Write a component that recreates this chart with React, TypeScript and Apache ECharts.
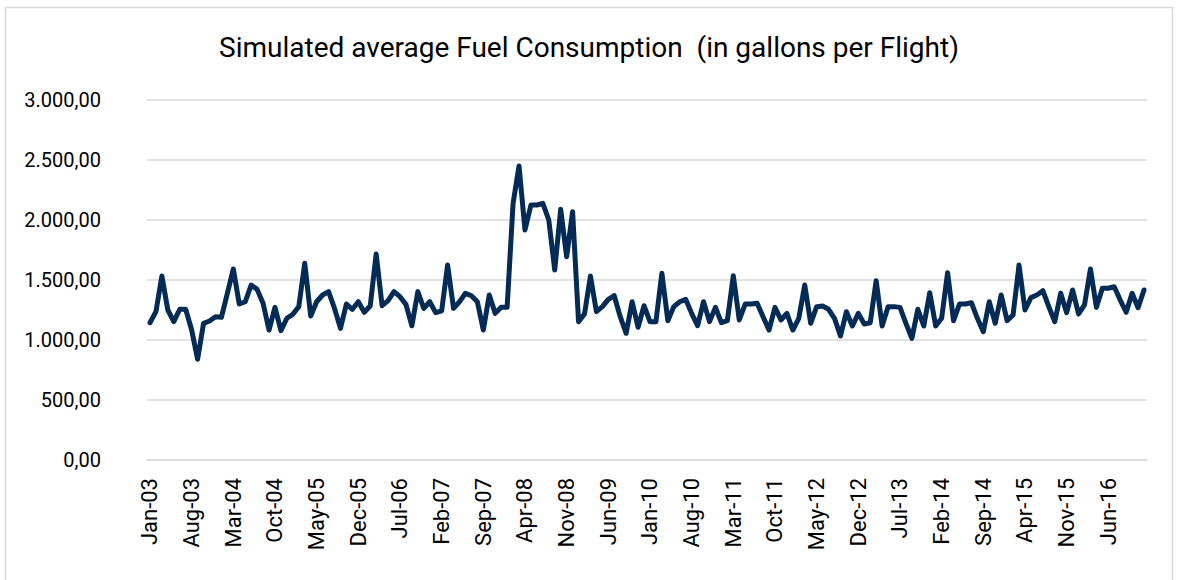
import React, { useEffect, useRef } from "react";
import * as echarts from "echarts";

const MONTH_NAMES = ["Jan", "Feb", "Mar", "Apr", "May", "Jun", "Jul", "Aug", "Sep", "Oct", "Nov", "Dec"];
const FIRST_YEAR = 2003;
const LAST_YEAR = 2016;

const TITLE = "Simulated average Fuel Consumption  (in gallons per Flight)";

const Y_MIN = 0;
const Y_MAX = 3000;
const Y_STEP = 500;

// Monthly average fuel consumption (gallons per flight), Jan-03 .. Dec-16
const FUEL = [
  1144, 1236, 1533, 1250, 1153, 1256, 1256, 1083, 839, 1139, 1158, 1194,
  1189, 1389, 1592, 1300, 1319, 1458, 1422, 1306, 1083, 1272, 1078, 1181,
  1214, 1278, 1639, 1200, 1319, 1375, 1403, 1264, 1097, 1300, 1256, 1319,
  1231, 1283, 1717, 1286, 1328, 1403, 1361, 1297, 1119, 1403, 1264, 1319,
  1228, 1242, 1625, 1264, 1319, 1389, 1369, 1319, 1083, 1375, 1222, 1272,
  1272, 2139, 2450, 1917, 2125, 2125, 2139, 2000, 1583, 2089, 1694, 2069,
  1153, 1217, 1533, 1236, 1278, 1339, 1369, 1194, 1056, 1319, 1106, 1286,
  1153, 1153, 1556, 1161, 1278, 1319, 1339, 1222, 1119, 1319, 1153, 1272,
  1144, 1161, 1536, 1167, 1300, 1300, 1306, 1194, 1083, 1272, 1167, 1222,
  1083, 1181, 1458, 1139, 1278, 1283, 1256, 1181, 1033, 1236, 1117, 1222,
  1133, 1144, 1494, 1117, 1278, 1278, 1272, 1139, 1014, 1256, 1117, 1394,
  1117, 1181, 1561, 1161, 1300, 1300, 1311, 1181, 1069, 1319, 1139, 1375,
  1161, 1208, 1625, 1250, 1353, 1375, 1411, 1278, 1153, 1389, 1228, 1417,
  1217, 1292, 1592, 1272, 1431, 1431, 1444, 1333, 1231, 1389, 1269, 1417,
];

function buildCategories(): string[] {
  const out: string[] = [];
  for (let y = FIRST_YEAR; y <= LAST_YEAR; y++) {
    for (const m of MONTH_NAMES) {
      out.push(`${m}-${String(y % 100).padStart(2, "0")}`);
    }
  }
  return out;
}

const CATEGORIES = buildCategories();

function formatNumber(v: number): string {
  const fixed = v.toFixed(2);
  const [intPart, dec] = fixed.split(".");
  const withDots = intPart.replace(/\B(?=(\d{3})+(?!\d))/g, ".");
  return `${withDots},${dec}`;
}

const FONT = "Roboto, 'Open Sans', sans-serif";

export default function App() {
  const ref = useRef<HTMLDivElement>(null);

  useEffect(() => {
    if (!ref.current) return;
    const chart = echarts.init(ref.current, undefined, { renderer: "svg" });
    chart.setOption({
      animation: false,
      backgroundColor: "#ffffff",
      title: {
        text: TITLE,
        left: "center",
        top: 28,
        textStyle: {
          fontFamily: FONT,
          fontSize: 28,
          fontWeight: "normal",
          color: "#000000",
        },
      },
      graphic: [
        {
          type: "rect",
          shape: { x: 5.5, y: 7.5, width: 1167, height: 580 },
          style: { fill: "none", stroke: "#d9d9d9", lineWidth: 1.5 },
          silent: true,
        },
      ],
      grid: {
        left: 147,
        right: 31,
        top: 100,
        bottom: 120,
        containLabel: false,
      },
      xAxis: {
        type: "category",
        data: CATEGORIES,
        boundaryGap: true,
        axisLine: { show: true, lineStyle: { color: "#d9d9d9", width: 1.5 } },
        axisTick: { show: false },
        axisLabel: {
          interval: 6,
          rotate: 90,
          margin: 18,
          fontFamily: FONT,
          fontSize: 22,
          color: "#000000",
        },
        splitLine: { show: false },
      },
      yAxis: {
        type: "value",
        min: Y_MIN,
        max: Y_MAX,
        interval: Y_STEP,
        axisLine: { show: false },
        axisTick: { show: false },
        axisLabel: {
          margin: 46,
          fontFamily: FONT,
          fontSize: 20,
          color: "#000000",
          formatter: (v: number) => formatNumber(v),
        },
        splitLine: { show: true, lineStyle: { color: "#d9d9d9", width: 1.5 } },
      },
      series: [
        {
          type: "line",
          data: FUEL,
          showSymbol: false,
          symbol: "none",
          lineStyle: { color: "#032b55", width: 5, join: "round", cap: "round" },
        },
      ],
    });
    return () => chart.dispose();
  }, []);

  return (
    <div
      ref={ref}
      style={{ position: "fixed", left: 0, top: 0, width: 1178, height: 580 }}
    />
  );
}
